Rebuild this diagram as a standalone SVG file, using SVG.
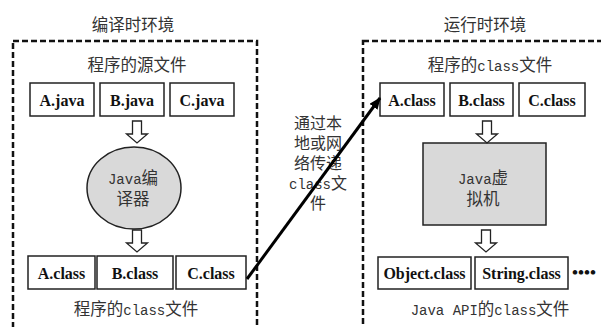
<svg xmlns="http://www.w3.org/2000/svg" width="601" height="327" viewBox="0 0 601 327">
<style>
.cjk{font-family:"Noto Sans CJK SC","Liberation Serif",serif;font-size:16.5px;fill:#333;text-anchor:middle}
.mid{font-size:16px}
.m{font-family:"Liberation Mono","Noto Sans CJK SC",monospace;font-size:14px}
.lbl{font-family:"Liberation Serif",serif;font-weight:bold;font-size:16px;fill:#111;text-anchor:middle}
.box{fill:#fff;stroke:#222;stroke-width:1.5}
.env{fill:none;stroke:#111;stroke-width:2.5;stroke-dasharray:6 3}
.gray{fill:#d9d9d9;stroke:#222;stroke-width:1.5}
.hollow{fill:#fff;stroke:#222;stroke-width:1.3}
</style>
<defs>
<path id="ha" d="M-4.5,0 H4.5 V13 H10.5 L0,22 L-10.5,13 H-4.5 Z"/>
<marker id="ah" markerWidth="12" markerHeight="10" refX="11" refY="5" orient="auto" markerUnits="userSpaceOnUse">
<path d="M0,0 L12,5 L0,10 Z" fill="#000"/>
</marker>
</defs>
<rect width="601" height="327" fill="#fff"/>

<g id="compile-env">
<rect class="env" x="13" y="41" width="244" height="300"/>
<text class="cjk" x="133" y="31">编译时环境</text>
</g>
<g id="runtime-env">
<rect class="env" x="363" y="41" width="260" height="300"/>
<text class="cjk" x="485" y="31">运行时环境</text>
</g>

<g id="source-files">
<text class="cjk" x="137" y="71">程序的源文件</text>
<g id="a-java"><rect class="box" x="30" y="83" width="64" height="33"/><text class="lbl" x="62" y="106">A.java</text></g>
<g id="b-java"><rect class="box" x="100" y="83" width="64" height="33"/><text class="lbl" x="132" y="106">B.java</text></g>
<g id="c-java"><rect class="box" x="170" y="83" width="64" height="33"/><text class="lbl" x="202" y="106">C.java</text></g>
</g>

<g id="compiler">
<ellipse class="gray" cx="134" cy="188" rx="47" ry="41"/>
<text class="cjk" x="133" y="184"><tspan class="m">Java</tspan>编<tspan x="133" y="205">译器</tspan></text>
</g>

<g id="compiled-classes">
<g id="a-class-l"><rect class="box" x="28" y="256" width="67" height="33"/><text class="lbl" x="61.5" y="279">A.class</text></g>
<g id="b-class-l"><rect class="box" x="97" y="256" width="76" height="33"/><text class="lbl" x="135" y="279">B.class</text></g>
<g id="c-class-l"><rect class="box" x="176" y="256" width="70" height="33"/><text class="lbl" x="211" y="279">C.class</text></g>
<text class="cjk" x="136" y="315">程序的<tspan class="m">class</tspan>文件</text>
</g>

<g id="runtime-classes">
<text class="cjk" x="490" y="71">程序的<tspan class="m">class</tspan>文件</text>
<g id="a-class-r"><rect class="box" x="380" y="83" width="64" height="33"/><text class="lbl" x="412" y="106">A.class</text></g>
<g id="b-class-r"><rect class="box" x="450" y="83" width="63" height="33"/><text class="lbl" x="481.5" y="106">B.class</text></g>
<g id="c-class-r"><rect class="box" x="519" y="83" width="66" height="33"/><text class="lbl" x="552" y="106">C.class</text></g>
</g>

<g id="jvm">
<rect class="gray" x="423" y="143" width="123" height="82"/>
<text class="cjk" x="483" y="184"><tspan class="m">Java</tspan>虚<tspan x="483" y="205">拟机</tspan></text>
</g>

<g id="api-classes">
<g id="object-class"><rect class="box" x="378" y="257" width="93" height="32"/><text class="lbl" x="424.5" y="279">Object.class</text></g>
<g id="string-class"><rect class="box" x="475" y="257" width="93" height="32"/><text class="lbl" x="521.5" y="279">String.class</text></g>
<text class="lbl" x="584" y="278" style="font-size:17px">••••</text>
<text class="cjk" x="490" y="315"><tspan class="m">Java API</tspan>的<tspan class="m">class</tspan>文件</text>
</g>

<g id="transfer-label">
<text class="cjk mid" x="318" y="129">通过本<tspan x="318" y="149">地或网</tspan><tspan x="318" y="169">络传递</tspan><tspan x="318" y="189"><tspan class="m">class</tspan>文</tspan><tspan x="318" y="209">件</tspan></text>
</g>

<g id="connectors">
<use href="#ha" class="hollow" x="137" y="121"/>
<use href="#ha" class="hollow" x="137" y="230"/>
<use href="#ha" class="hollow" x="487" y="121"/>
<use href="#ha" class="hollow" x="486" y="230"/>
<line x1="247" y1="279" x2="380" y2="98" stroke="#000" stroke-width="3" marker-end="url(#ah)"/>
</g>
</svg>
